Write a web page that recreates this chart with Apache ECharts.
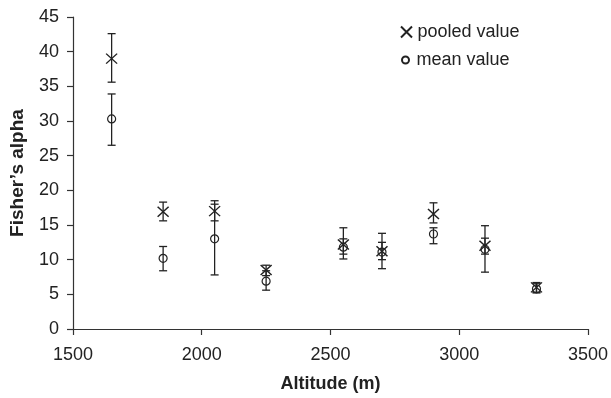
<!DOCTYPE html>
<html>
<head>
<meta charset="utf-8">
<script src="https://cdn.jsdelivr.net/npm/echarts@6/dist/echarts.min.js"></script>
<style>
html,body{margin:0;padding:0;background:#fff;}
#chart{width:611px;height:398px;}
</style>
</head>
<body>
<div id="chart"></div>
<script>
var altitudes = [1650, 1850, 2050, 2250, 2550, 2700, 2900, 3100, 3300];
var pooled     = [39.0, 16.9, 17.0, 8.5, 12.2, 11.2, 16.6, 12.0, 6.0];
var pooledLow  = [35.6, 15.6, 15.6, 7.7, 10.8, 10.0, 15.3, 10.8, 5.3];
var pooledHigh = [42.6, 18.3, 18.0, 9.2, 13.0, 12.5, 18.2, 14.9, 6.7];
var meanVals   = [30.3, 10.2, 13.0, 6.9, 11.8, 11.1, 13.7, 11.5, 5.8];
var meanLow    = [26.5, 8.4, 7.8, 5.6, 10.1, 8.7, 12.3, 8.2, 5.2];
var meanHigh   = [33.9, 11.9, 18.5, 8.4, 14.6, 13.8, 14.6, 13.1, 6.6];
var xTicks = [1500, 2000, 2500, 3000, 3500];
var yTicks = [0, 5, 10, 15, 20, 25, 30, 35, 40, 45];

var INK = '#222';
var FONT = '"Liberation Sans", Arial, Helvetica, sans-serif';

function pairs(xs, ys) { return xs.map(function (x, i) { return [x, ys[i]]; }); }
function errData(xs, lo, hi) { return xs.map(function (x, i) { return [x, lo[i], hi[i]]; }); }

function errRender(params, api) {
  var x = api.value(0), lo = api.value(1), hi = api.value(2);
  var pLo = api.coord([x, lo]);
  var pHi = api.coord([x, hi]);
  var cap = 4;
  var st = { stroke: INK, lineWidth: 1.3 };
  return {
    type: 'group',
    children: [
      { type: 'line', shape: { x1: pLo[0], y1: pLo[1], x2: pHi[0], y2: pHi[1] }, style: st },
      { type: 'line', shape: { x1: pLo[0] - cap, y1: pLo[1], x2: pLo[0] + cap, y2: pLo[1] }, style: st },
      { type: 'line', shape: { x1: pHi[0] - cap, y1: pHi[1], x2: pHi[0] + cap, y2: pHi[1] }, style: st }
    ]
  };
}

var chart = echarts.init(document.getElementById('chart'), null, { renderer: 'canvas' });
var xSymbol = 'path://M0,0L10,10M10,0L0,10';

chart.setOption({
  animation: false,
  backgroundColor: '#fff',
  grid: { left: 70, right: 23, top: 17, bottom: 69 },
  legend: [
    {
      data: [{ name: 'pooled value', icon: xSymbol }],
      left: 400, top: 23, padding: 0,
      itemWidth: 12, itemHeight: 11,
      textStyle: { fontFamily: FONT, fontSize: 18, color: INK }
    },
    {
      data: [{ name: 'mean value', icon: 'circle' }],
      left: 401, top: 51, padding: 0,
      itemWidth: 12, itemHeight: 7,
      textStyle: { fontFamily: FONT, fontSize: 18, color: INK }
    }
  ],
  xAxis: {
    type: 'value',
    min: xTicks[0], max: xTicks[xTicks.length - 1], interval: 500,
    name: 'Altitude (m)', nameLocation: 'middle', nameGap: 46,
    nameTextStyle: { fontFamily: FONT, fontSize: 18, fontWeight: 'bold', color: INK },
    axisLine: { lineStyle: { color: '#333', width: 1.2 } },
    axisTick: { show: true, length: 6, lineStyle: { color: '#333', width: 1.2 } },
    axisLabel: { fontFamily: FONT, fontSize: 18, color: INK, margin: 17,
      formatter: function (v) { return String(v); } },
    splitLine: { show: false }
  },
  yAxis: {
    type: 'value',
    min: yTicks[0], max: yTicks[yTicks.length - 1], interval: 5,
    name: "Fisher\u2019s alpha", nameLocation: 'middle', nameGap: 46, nameRotate: 90,
    nameTextStyle: { fontFamily: FONT, fontSize: 19, fontWeight: 'bold', color: INK },
    axisLine: { show: true, lineStyle: { color: '#333', width: 1.2 } },
    axisTick: { show: true, length: 6, lineStyle: { color: '#333', width: 1.2 } },
    axisLabel: { fontFamily: FONT, fontSize: 18, color: INK, margin: 14 },
    splitLine: { show: false }
  },
  series: [
    {
      name: 'pooled err', type: 'custom', renderItem: errRender,
      data: errData(altitudes, pooledLow, pooledHigh), z: 2, silent: true
    },
    {
      name: 'mean err', type: 'custom', renderItem: errRender,
      data: errData(altitudes, meanLow, meanHigh), z: 2, silent: true
    },
    {
      name: 'pooled value', type: 'scatter', symbol: xSymbol, symbolSize: [11, 10],
      data: pairs(altitudes, pooled), z: 3,
      itemStyle: { color: 'rgba(0,0,0,0)', borderColor: INK, borderWidth: 1.4, opacity: 1 }
    },
    {
      name: 'mean value', type: 'scatter', symbol: 'circle', symbolSize: 8,
      data: pairs(altitudes, meanVals), z: 3,
      itemStyle: { color: 'rgba(0,0,0,0)', borderColor: INK, borderWidth: 1.2, opacity: 1 }
    }
  ]
});
</script>
</body>
</html>
